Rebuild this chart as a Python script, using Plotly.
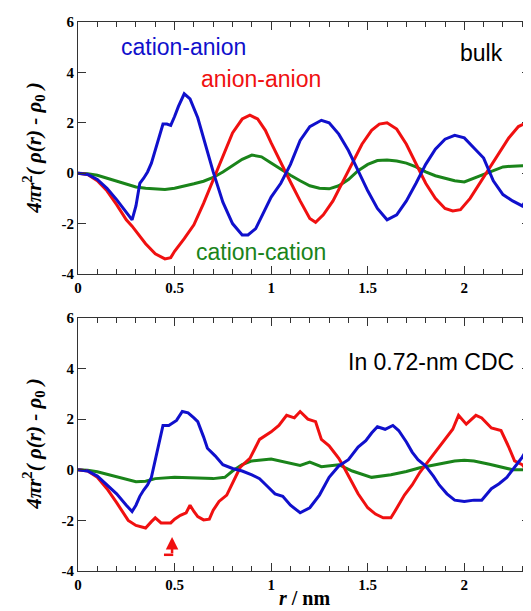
import plotly.graph_objects as go
from plotly.subplots import make_subplots

# ---------------- data: bulk ----------------
ca_bulk_r = [0, 0.05, 0.1, 0.15, 0.2, 0.25, 0.28, 0.3, 0.32, 0.34, 0.36, 0.38, 0.4, 0.42, 0.44, 0.46, 0.48, 0.5, 0.52, 0.55, 0.58, 0.62, 0.66, 0.7, 0.75, 0.8, 0.85, 0.88, 0.92, 0.96, 1.0, 1.05, 1.1, 1.15, 1.2, 1.26, 1.3, 1.35, 1.4, 1.45, 1.5, 1.55, 1.6, 1.65, 1.7, 1.75, 1.8, 1.85, 1.9, 1.95, 2.0, 2.05, 2.1, 2.15, 2.2, 2.25, 2.3, 2.34]
ca_bulk_g = [0, -0.05, -0.25, -0.6, -1.05, -1.55, -1.85, -1.3, -0.4, -0.2, 0.05, 0.4, 0.9, 1.4, 1.95, 1.95, 1.9, 2.25, 2.65, 3.15, 2.95, 2.2, 1.1, 0.05, -1.15, -2.0, -2.45, -2.45, -2.2, -1.6, -0.95, -0.4, 0.35, 1.3, 1.85, 2.1, 2.0, 1.55, 0.9, 0.1, -0.7, -1.4, -1.85, -1.65, -1.1, -0.4, 0.35, 0.95, 1.35, 1.5, 1.4, 1.0, 0.6, -0.3, -0.85, -1.1, -1.3, -0.85]

aa_bulk_r = [0, 0.05, 0.1, 0.15, 0.2, 0.25, 0.28, 0.3, 0.35, 0.4, 0.45, 0.48, 0.5, 0.55, 0.6, 0.65, 0.7, 0.75, 0.8, 0.85, 0.89, 0.93, 0.97, 1.0, 1.05, 1.1, 1.15, 1.2, 1.23, 1.27, 1.32, 1.37, 1.42, 1.47, 1.52, 1.56, 1.6, 1.65, 1.7, 1.75, 1.8, 1.85, 1.9, 1.94, 1.98, 2.03, 2.08, 2.13, 2.18, 2.23, 2.28, 2.32, 2.34]
aa_bulk_g = [0, -0.05, -0.3, -0.7, -1.25, -1.85, -2.1, -2.3, -2.8, -3.2, -3.4, -3.35, -3.1, -2.6, -2.05, -1.2, -0.25, 0.7, 1.6, 2.15, 2.3, 2.15, 1.7, 1.2, 0.4, -0.35, -1.1, -1.8, -1.95, -1.65, -1.1, -0.35, 0.4, 1.15, 1.7, 1.95, 2.0, 1.75, 1.15, 0.35, -0.4, -1.0, -1.4, -1.5, -1.45, -1.0, -0.4, 0.25, 0.85, 1.4, 1.85, 2.0, 1.9]

cc_bulk_r = [0, 0.05, 0.1, 0.15, 0.2, 0.25, 0.3, 0.35, 0.4, 0.45, 0.5, 0.55, 0.6, 0.65, 0.7, 0.75, 0.8, 0.85, 0.9, 0.95, 1.0, 1.05, 1.1, 1.15, 1.2, 1.25, 1.3, 1.35, 1.4, 1.45, 1.5, 1.55, 1.6, 1.65, 1.7, 1.75, 1.8, 1.85, 1.9, 1.95, 2.0, 2.05, 2.1, 2.15, 2.2, 2.25, 2.3, 2.34]
cc_bulk_g = [0, -0.02, -0.08, -0.2, -0.32, -0.45, -0.55, -0.6, -0.62, -0.65, -0.6, -0.52, -0.42, -0.32, -0.17, 0.05, 0.3, 0.55, 0.72, 0.65, 0.4, 0.15, -0.08, -0.3, -0.5, -0.6, -0.62, -0.5, -0.25, 0.1, 0.35, 0.5, 0.52, 0.48, 0.4, 0.25, 0.05, -0.1, -0.2, -0.3, -0.35, -0.2, -0.02, 0.12, 0.25, 0.28, 0.3, 0.28]

# ---------------- data: in 0.72-nm CDC ----------------
ca_cdc_r = [0, 0.05, 0.1, 0.15, 0.2, 0.25, 0.28, 0.3, 0.32, 0.34, 0.36, 0.38, 0.4, 0.42, 0.44, 0.47, 0.49, 0.51, 0.54, 0.57, 0.6, 0.62, 0.65, 0.67, 0.71, 0.75, 0.8, 0.85, 0.9, 0.94, 0.98, 1.02, 1.06, 1.1, 1.15, 1.2, 1.25, 1.3, 1.35, 1.4, 1.45, 1.49, 1.52, 1.55, 1.59, 1.63, 1.66, 1.7, 1.73, 1.76, 1.8, 1.84, 1.87, 1.91, 1.95, 2.0, 2.05, 2.09, 2.14, 2.18, 2.22, 2.26, 2.3, 2.32, 2.34]
ca_cdc_g = [0, -0.05, -0.25, -0.6, -0.95, -1.4, -1.65, -1.4, -1.05, -0.8, -0.6, -0.3, 0.4, 1.1, 1.75, 1.75, 1.85, 1.95, 2.3, 2.25, 2.05, 1.9, 1.3, 0.85, 0.55, 0.2, 0.05, -0.05, -0.2, -0.35, -0.65, -0.95, -1.05, -1.4, -1.7, -1.5, -1.0, -0.3, 0.15, 0.4, 0.9, 1.15, 1.45, 1.7, 1.6, 1.75, 1.55, 1.1, 0.7, 0.4, 0.15, -0.25, -0.6, -0.95, -1.2, -1.25, -1.2, -1.2, -0.75, -0.55, -0.3, 0.1, 0.5, 0.75, 0.8]

aa_cdc_r = [0, 0.05, 0.1, 0.15, 0.2, 0.26, 0.3, 0.35, 0.38, 0.4, 0.43, 0.46, 0.48, 0.5, 0.53, 0.56, 0.58, 0.6, 0.62, 0.65, 0.68, 0.7, 0.73, 0.77, 0.8, 0.84, 0.89, 0.94, 1.0, 1.04, 1.08, 1.12, 1.15, 1.19, 1.23, 1.26, 1.3, 1.35, 1.38, 1.42, 1.45, 1.5, 1.54, 1.58, 1.62, 1.64, 1.69, 1.73, 1.77, 1.8, 1.85, 1.9, 1.94, 1.97, 2.01, 2.06, 2.09, 2.14, 2.19, 2.23, 2.26, 2.3, 2.34]
aa_cdc_g = [0, -0.05, -0.3, -0.75, -1.3, -2.0, -2.2, -2.3, -2.05, -1.9, -2.1, -2.1, -2.1, -1.95, -1.8, -1.7, -1.4, -1.65, -1.85, -1.98, -1.95, -1.6, -1.25, -1.0, -0.5, 0.1, 0.45, 1.2, 1.5, 1.75, 2.15, 2.05, 2.3, 2.0, 1.9, 1.2, 0.95, 0.45, 0.05, -0.55, -0.95, -1.5, -1.75, -1.9, -1.9, -1.65, -1.0, -0.6, -0.1, 0.2, 0.7, 1.2, 1.6, 2.15, 1.8, 2.15, 2.05, 1.65, 1.55, 0.9, 0.35, 0.2, -0.2]

cc_cdc_r = [0, 0.05, 0.1, 0.15, 0.2, 0.25, 0.3, 0.35, 0.4, 0.5, 0.6, 0.7, 0.76, 0.8, 0.85, 0.9, 1.0, 1.1, 1.15, 1.2, 1.26, 1.35, 1.42, 1.52, 1.62, 1.7, 1.77, 1.85, 1.95, 2.0, 2.05, 2.13, 2.2, 2.25, 2.34]
cc_cdc_g = [0, -0.02, -0.08, -0.18, -0.3, -0.4, -0.47, -0.45, -0.35, -0.3, -0.32, -0.35, -0.3, -0.05, 0.2, 0.35, 0.42, 0.25, 0.17, 0.3, 0.12, 0.2, -0.05, -0.3, -0.2, -0.07, 0.08, 0.2, 0.35, 0.38, 0.35, 0.22, 0.1, 0.0, 0.0]

x_tickvals = [0, 0.5, 1, 1.5, 2]
x_ticktext = ["0", "0.5", "1", "1.5", "2"]
y_tickvals = [-4, -2, 0, 2, 4, 6]
y_ticktext = ["-4", "-2", "0", "2", "4", "6"]

BLUE = "#1010cc"
RED = "#f01010"
GREEN = "#1a841a"

fig = make_subplots(rows=2, cols=1)

panels = [
    (1, [(ca_bulk_r, ca_bulk_g, BLUE), (aa_bulk_r, aa_bulk_g, RED), (cc_bulk_r, cc_bulk_g, GREEN)]),
    (2, [(ca_cdc_r, ca_cdc_g, BLUE), (aa_cdc_r, aa_cdc_g, RED), (cc_cdc_r, cc_cdc_g, GREEN)]),
]
for row, series in panels:
    for xs, ys, col in [series[2], series[1], series[0]]:
        fig.add_trace(go.Scatter(x=xs, y=ys, mode="lines",
                                 line=dict(color=col, width=3),
                                 showlegend=False, hoverinfo="skip"),
                      row=row, col=1)

tickfont = dict(family="Liberation Serif", size=15, color="black", weight="bold")
axis_common = dict(showline=True, linecolor="#333333", linewidth=1, mirror="ticks",
                   ticks="inside", tickcolor="#333333", showgrid=False, zeroline=False,
                   tickfont=tickfont)

for i, dom in [(1, [0.541, 1.0]), (2, [0.0, 0.461])]:
    fig.update_xaxes(range=[0, 2.34], tickvals=x_tickvals, ticktext=x_ticktext,
                     ticklen=8, minor=dict(dtick=0.1, ticks="inside", ticklen=5, tickcolor="#333333"),
                     row=i, col=1, **axis_common)
    fig.update_yaxes(range=[-4, 6], tickvals=y_tickvals, ticktext=y_ticktext,
                     ticklen=8, domain=dom, row=i, col=1, **axis_common)
fig.update_xaxes(domain=[0, 1])

label_font = dict(family="Liberation Sans", size=23)
annos = [
    dict(text="cation-anion", x=0.544, y=5.0, xref="x", yref="y", font=dict(color=BLUE, **label_font)),
    dict(text="anion-anion", x=0.946, y=3.73, xref="x", yref="y", font=dict(color=RED, **label_font)),
    dict(text="cation-cation", x=0.946, y=-3.13, xref="x", yref="y", font=dict(color=GREEN, **label_font)),
    dict(text="bulk", x=2.09, y=4.76, xref="x", yref="y", font=dict(color="black", **label_font)),
    dict(text="In 0.72-nm CDC", x=1.83, y=4.27, xref="x2", yref="y2", font=dict(color="black", **label_font)),
]
for a in annos:
    fig.add_annotation(showarrow=False, xanchor="center", yanchor="middle", **a)

ytitle = "<b><i>4πr</i><sup>2</sup><i>( ρ(r) - ρ</i><sub>0</sub><i> )</i></b>"
for yc in [(148 - 22), (444 - 22)]:
    fig.add_annotation(text=ytitle, xref="paper", yref="paper", x=-0.1,
                       y=1 - yc / 549, textangle=-90, showarrow=False,
                       xanchor="center", yanchor="middle",
                       font=dict(family="Liberation Serif", size=21, color="black"))

fig.add_annotation(text="<b><i>r</i> / nm</b>", xref="paper", yref="paper", x=0.5, y=-0.049,
                   showarrow=False, xanchor="center", yanchor="middle",
                   font=dict(family="Liberation Serif", size=20, color="black"))

# red arrow marker in the CDC panel
fig.add_annotation(x=0.487, y=-2.66, ax=0.487, ay=-3.36, xref="x2", yref="y2",
                   axref="x2", ayref="y2", text="", showarrow=True,
                   arrowhead=2, arrowsize=1.0, arrowwidth=2.5, arrowcolor=RED)
fig.add_shape(type="line", x0=0.445, y0=-3.36, x1=0.493, y1=-3.36, xref="x2", yref="y2",
              line=dict(color=RED, width=2.5))

# the page body adds an 8px offset, so the figure is 8px smaller on each side
fig.update_layout(width=523, height=603, margin=dict(l=70, r=1, t=14, b=40),
                  plot_bgcolor="white", paper_bgcolor="white")

fig.write_html("out.html")
